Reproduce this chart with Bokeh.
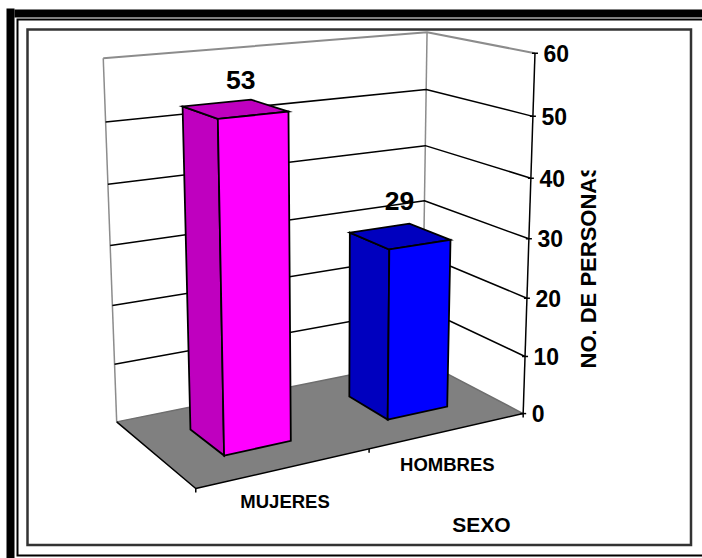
import numpy as np
from bokeh.core.properties import value
from bokeh.embed import file_html
from bokeh.models import Range1d
from bokeh.plotting import figure
from bokeh.resources import INLINE

# Chart data
categories = ["MUJERES", "HOMBRES"]
personas = [53, 29]
y_ticks = [0, 10, 20, 30, 40, 50, 60]
y_title = "NO. DE PERSONAS"
x_title = "SEXO"
y_max = 60

# Face colours for each column: front, then side and top
front_colors = ["#FF00FF", "#0000FF"]
shade_colors = ["#BF00BF", "#0000BF"]
FLOOR_GRAY = "#808080"
WALL_GRAY = "#8c8c8c"
FONT = value("Liberation Sans")

# Perspective camera of the 3-D box: (across, depth, value share, 1) -> screen
CAMERA = np.array([
    [392.7262, -65.8641, -21.6999, 195.2632],
    [-23.2787, -18.7218, -408.8172, 487.9907],
    [0.124984, 0.113693, -0.065469, 1.0],
])


def project(across, depth, val):
    r = CAMERA @ np.array([across, depth, val / y_max, 1.0])
    return r[0] / r[2], r[1] / r[2]


def face(*corners):
    xs, ys = zip(*(project(*c) for c in corners))
    return list(xs), list(ys)


p = figure(
    width=702, height=558, output_backend="svg", toolbar_location=None,
    x_range=Range1d(0, 702), y_range=Range1d(558, 0),
    min_border=0, outline_line_color=None, background_fill_color="white",
    border_fill_color="white", x_axis_type=None, y_axis_type=None,
)
p.grid.visible = False

# Double page border, open on the right
p.quad(left=[6, 14], right=[14, 702], top=[8, 9], bottom=[558, 17], color="black", line_color=None)
p.line([702, 17, 17, 702], [19, 19, 555, 555], line_color="black", line_width=2, line_join="miter")

# Chart area frame
p.quad(left=[27], right=[690.5], top=[29], bottom=[544.5], fill_color=None,
       line_color="#333333", line_width=2.5, line_join="miter")

# Floor
fx, fy = face((0, 0, 0), (1, 0, 0), (1, 1, 0), (0, 1, 0))
p.patch(fx, fy, fill_color=FLOOR_GRAY, line_color=None)

# Walls: edges and gridlines
for u, d in [(0, 1), (1, 1)]:
    x, y = face((u, d, 0), (u, d, y_max))
    p.line(x, y, line_color=WALL_GRAY, line_width=1.5)
x, y = face((0, 1, y_max), (1, 1, y_max), (1, 0, y_max))
p.line(x, y, line_color=WALL_GRAY, line_width=2)
x, y = face((0, 1, 0), (1, 1, 0), (1, 0, 0))
p.line(x, y, line_color="#6e6e6e", line_width=1.5)
for t in y_ticks[1:-1]:
    x, y = face((0, 1, t), (1, 1, t), (1, 0, t))
    p.line(x, y, line_color="black", line_width=1.5)

# Floor front edges and the value axis with its ticks
x, y = face((0, 1, 0), (0, 0, 0), (1, 0, 0))
p.line(x, y, line_color="black", line_width=1.5)
x, y = face((1, 0, 0), (1, 0, y_max))
p.line(x, y, line_color="black", line_width=1.5)
for t in y_ticks:
    ax, ay = project(1, 0, t)
    p.line([ax - 3, ax + 3], [ay, ay], line_color="black", line_width=1.5)
    p.text([ax + 8.5], [ay], text=[str(t)], text_font=FONT, text_font_style="bold",
           text_font_size="23px", text_baseline="middle", text_align="left", text_color="black")
for u in (0, 0.5, 1):
    ax, ay = project(u, 0, 0)
    p.line([ax, ax], [ay, ay + 4], line_color="black", line_width=1.5)

# Columns
BAR_WIDTH = 0.197
DEPTH_NEAR, DEPTH_FAR = 0.295, 0.70
label_shift = [(6, -29), (0, -35)]
cat_shift = [(0, 33), (-1, 34)]
for i, (name, v) in enumerate(zip(categories, personas)):
    c = (i + 0.5) / len(categories)
    u0, u1 = c - BAR_WIDTH / 2, c + BAR_WIDTH / 2
    d0, d1 = DEPTH_NEAR, DEPTH_FAR
    outline = dict(line_color="black", line_width=1.8, line_join="miter")
    x, y = face((u0, d1, 0), (u0, d0, 0), (u0, d0, v), (u0, d1, v))
    p.patch(x, y, fill_color=shade_colors[i], **outline)
    x, y = face((u0, d0, v), (u1, d0, v), (u1, d1, v), (u0, d1, v))
    p.patch(x, y, fill_color=shade_colors[i], **outline)
    x, y = face((u0, d0, 0), (u1, d0, 0), (u1, d0, v), (u0, d0, v))
    p.patch(x, y, fill_color=front_colors[i], **outline)

    tx, ty = project(c, 0.5, v)
    p.text([tx + label_shift[i][0]], [ty + label_shift[i][1]], text=[str(v)], text_font=FONT,
           text_font_style="bold", text_font_size="26.5px", text_align="center",
           text_baseline="middle", text_color="black")
    bx, by = project(c, 0, 0)
    p.text([bx + cat_shift[i][0]], [by + cat_shift[i][1]], text=[name], text_font=FONT,
           text_font_style="bold", text_font_size="18.5px", text_align="center",
           text_baseline="middle", text_color="black")

# Axis titles; the value title runs out of its box at the top
p.text([587.5], [368], text=[y_title], angle=np.pi / 2, text_font=FONT, text_font_style="bold",
       text_font_size="22px", text_align="left", text_baseline="middle", text_color="black")
p.quad(left=[570], right=[610], top=[140], bottom=[170], color="white", line_color=None)
p.text([481], [524], text=[x_title], text_font=FONT, text_font_style="bold",
       text_font_size="21px", text_align="center", text_baseline="middle", text_color="black")

open("out.html", "w").write(file_html(p, INLINE))
